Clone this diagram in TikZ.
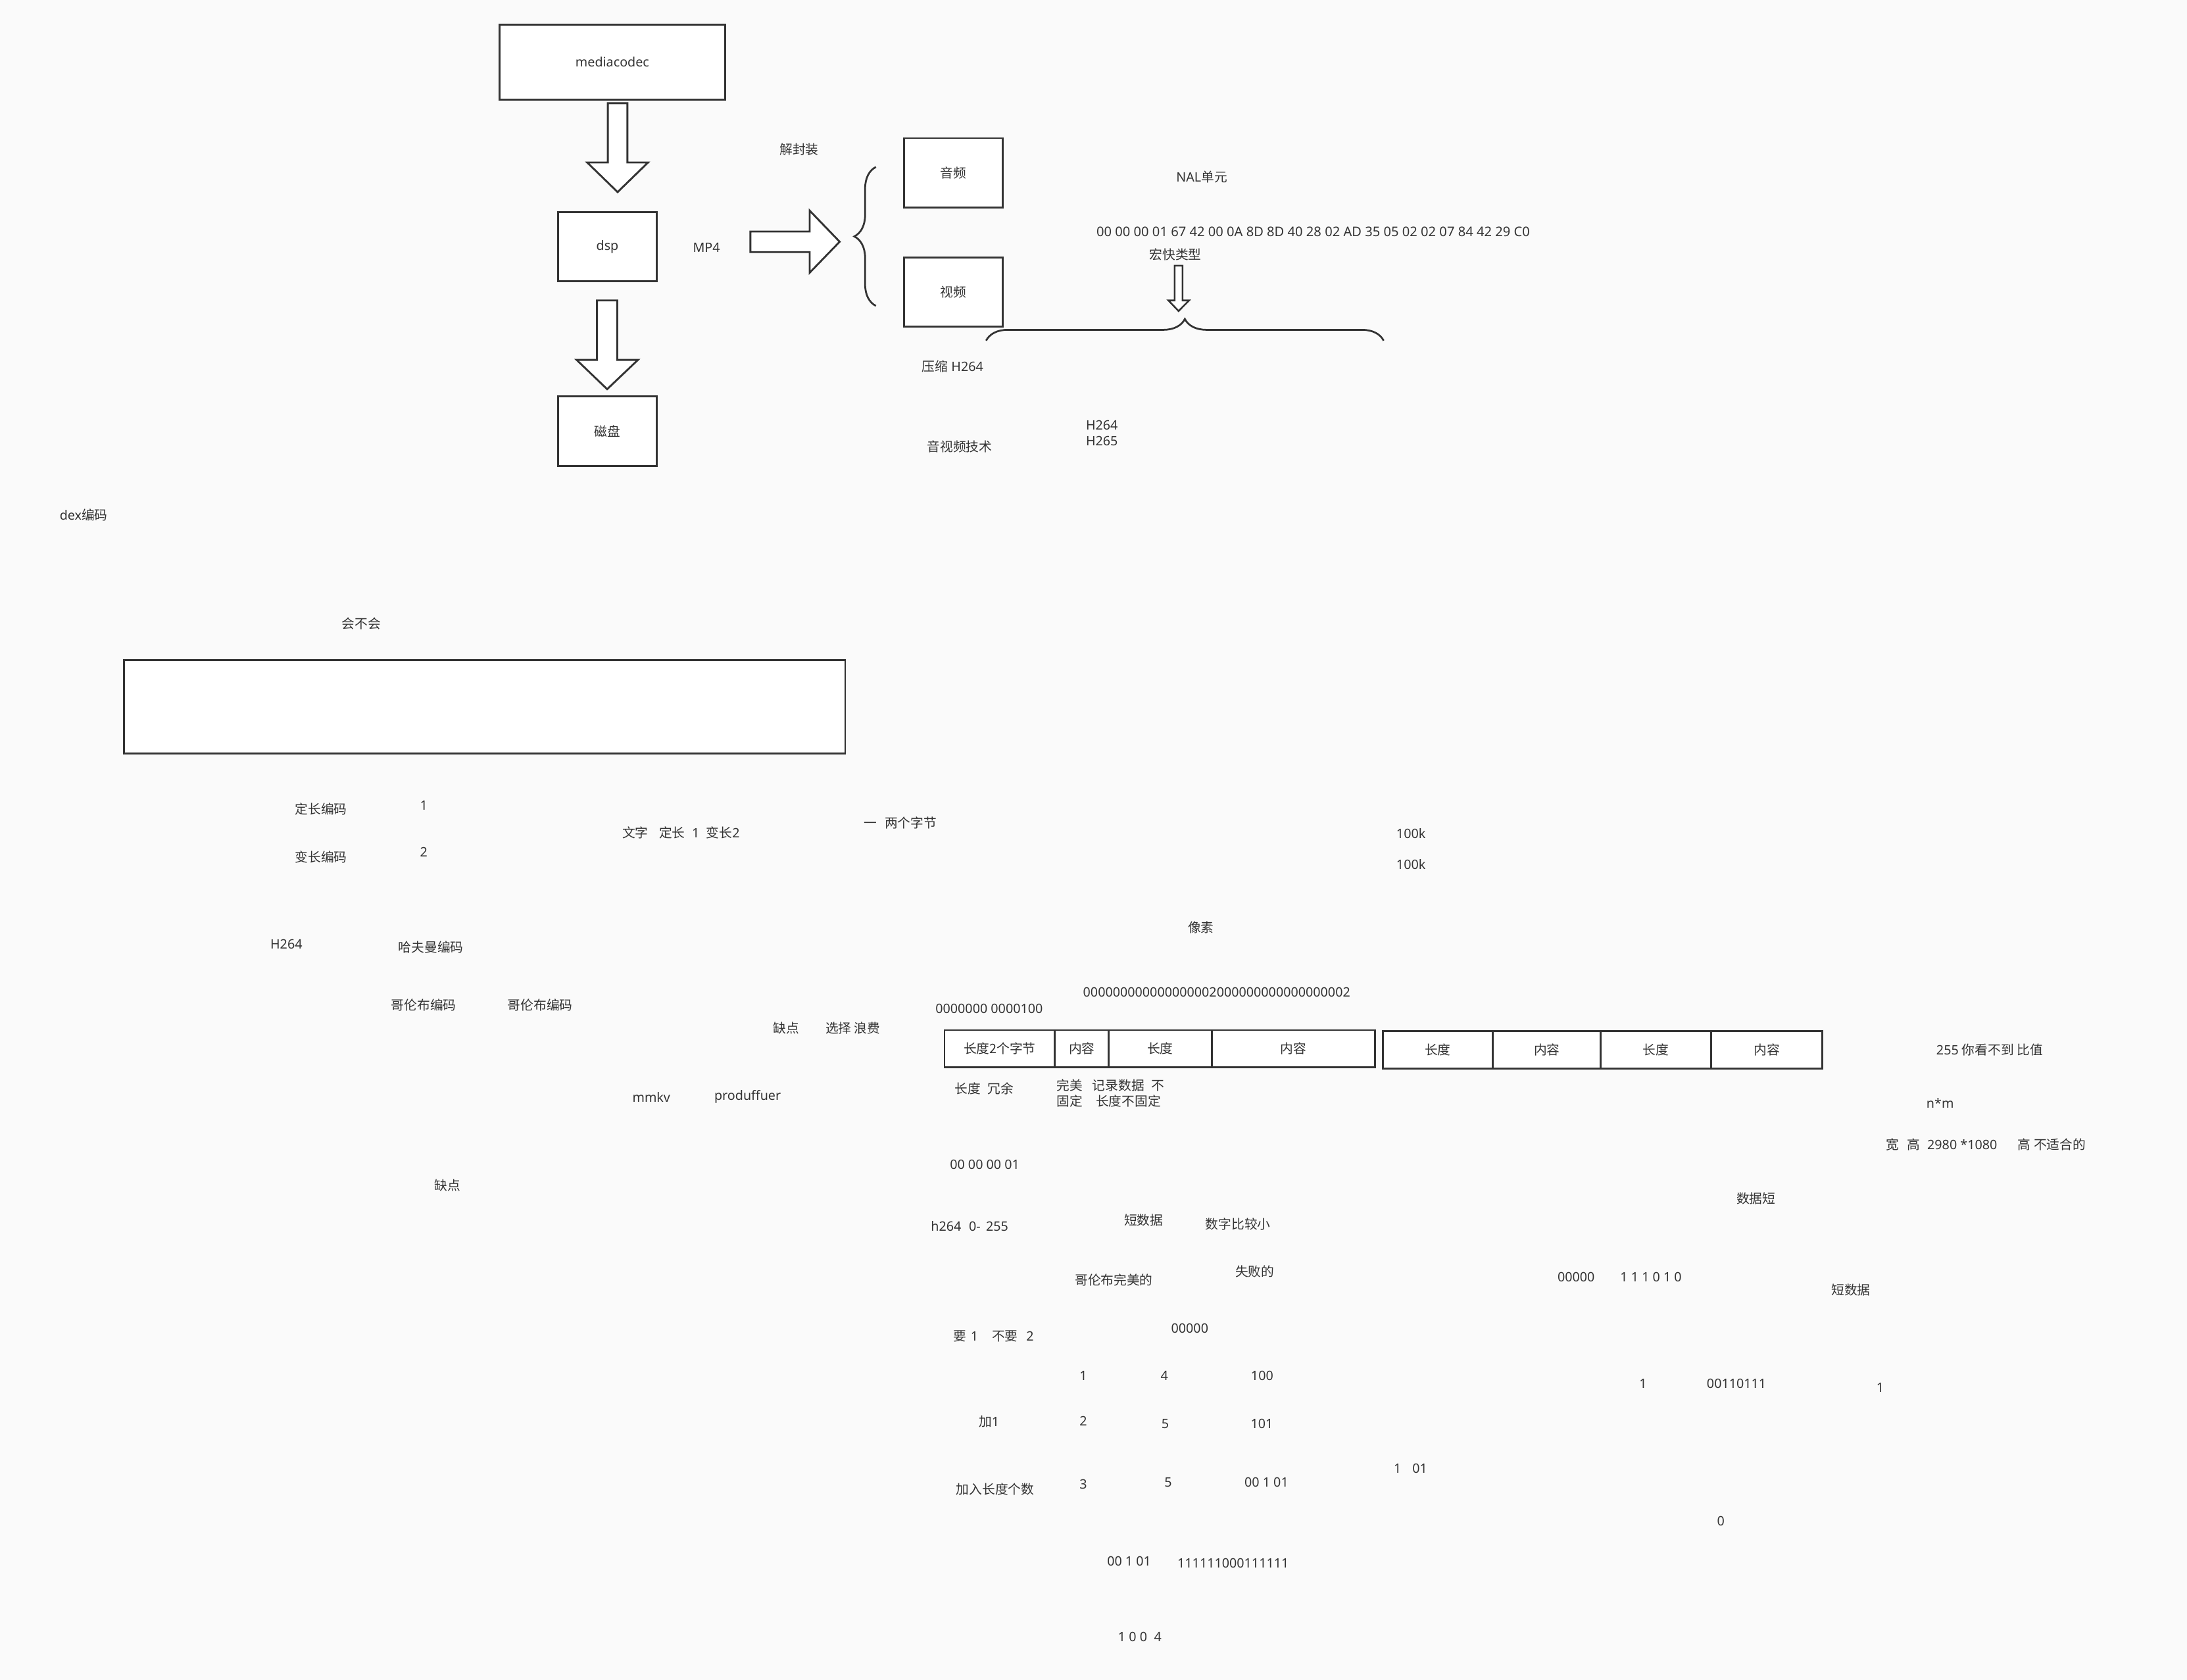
\documentclass[tikz,border=0pt]{standalone}
\usepackage{fontspec}
\setmainfont{Noto Sans}
\newfontfamily\cjkf{Noto Sans CJK SC}
\usetikzlibrary{decorations.pathreplacing}
\definecolor{bg}{RGB}{250,250,250}
\definecolor{ink}{HTML}{333333}
\newcommand\fs{\fontsize{9.3}{11.2}\selectfont}
\newcommand\zh[1]{{\cjkf #1}}
\newcommand\tenz{0000000000}
\begin{document}
\begin{tikzpicture}[x=1pt,y=-1pt,
  box/.style={draw=ink, fill=white, line width=1.35pt, inner sep=0pt, font=\fs\cjkf, text=ink},
  lbl/.style={inner sep=0pt, font=\fs, text=ink},
  cn/.style={inner sep=0pt, font=\fs\cjkf, text=ink},
  blk/.style={draw=ink, fill=white, line width=1.35pt},
  brc/.style={draw=ink, line width=1.3pt, decorate, decoration={brace, amplitude=15.5pt}}]
\useasboundingbox (0,0) rectangle (1568,1204.4);
\fill[bg] (0,0) rectangle (1568,1204.4);

% ---- top flow ----
\node[box, minimum width=162pt, minimum height=54pt, font=\fs] (mc) at (439,44.6) {mediacodec};
\node[box, minimum width=71pt, minimum height=49.5pt, font=\fs] (dsp) at (435.5,176.8) {dsp};
\node[box, minimum width=71pt, minimum height=50pt] (disk) at (435.5,309) {磁盘};
\draw[blk] (435.8,74) -- (449.8,74) -- (449.8,116.5) -- (464.6,116.5) -- (442.8,137.7) -- (421,116.5) -- (435.8,116.5) -- cycle;
\draw[blk] (428,215.4) -- (442.6,215.4) -- (442.6,258) -- (457.4,258) -- (435.3,279) -- (413.4,258) -- (428,258) -- cycle;
\node[lbl] (mp4) at (506.5,177.5) {MP4};
\node[cn] (jfz) at (573,107) {解封装};
\draw[blk] (538,166) -- (580.5,166) -- (580.5,151) -- (602,173.3) -- (580.5,195.5) -- (580.5,180.7) -- (538,180.7) -- cycle;
\draw[brc] (628,219.3) -- (628,119.7);
\node[box, minimum width=71pt, minimum height=49.7pt] (audio) at (683.5,123.9) {音频};
\node[box, minimum width=71pt, minimum height=49.7pt] (video) at (683.5,209.4) {视频};

\node[lbl] (nal) at (861.6,127) {NAL\zh{单元}};
\node[lbl, font=\fontsize{9.5}{11.2}\selectfont] (hex) at (941.5,166.3) {00 00 00 01 67 42 00 0A 8D 8D 40 28 02 AD 35 05 02 02 07 84 42 29 C0};
\node[cn] (hk) at (842.8,182.3) {宏快类型};
\draw[blk, line width=1.2pt] (842.2,190.5) -- (847.8,190.5) -- (847.8,215.4) -- (852.5,215.4) -- (845,223) -- (837.7,215.4) -- (842.2,215.4) -- cycle;
\draw[brc] (707,244.2) -- (992,244.2);
\node[lbl] (ys) at (683,262.6) {\zh{压缩} H264};
\node[lbl, align=left] (h26x) at (790,310.4) {H264\\H265};
\node[cn] (yspjs) at (688,320.4) {音视频技术};

% ---- left middle ----
\node[lbl] (dex) at (60,369) {dex\zh{编码}};
\node[cn] (hbh) at (259,447) {会不会};
\node[box, minimum width=517pt, minimum height=67pt] (big) at (347.5,506.8) {};
\node[cn] (dc) at (230.2,580) {定长编码};
\node[lbl] (n1) at (303.8,577.3) {1};
\node[cn] (bc) at (230.2,614.2) {变长编码};
\node[lbl] (n2) at (303.8,611) {2};
\node[lbl] (wz) at (488.3,597) {\zh{文字}\hspace{7.7pt}\zh{定长}\hspace{5pt}1\hspace{5pt}\zh{变长}2};
\node[cn] (lgzj) at (645.5,590) {一\hspace{5.5pt}两个字节};
\node[lbl] (k1) at (1011.6,597.4) {100k};
\node[lbl] (k2) at (1011.6,619.7) {100k};
\node[cn] (xs) at (861,665) {像素};
\node[lbl] (h264b) at (205.3,676.8) {H264};
\node[cn] (hfm) at (309,679) {哈夫曼编码};
\node[cn] (glb1) at (303.8,720.6) {哥伦布编码};
\node[cn] (glb2) at (387.3,720.6) {哥伦布编码};
\node[cn] (qd1) at (563.7,737) {缺点};
\node[cn] (xzlf) at (611.5,737) {选择 浪费};
\node[lbl] (mmkv) at (467,786.4) {mmkv};
\node[lbl] (prod) at (536,786.4) {produffuer};
\node[cn] (qd2) at (321,850) {缺点};

% ---- byte row ----
\node[lbl] (z1) at (709.2,723) {0000000 0000100};
\node[lbl] (z2) at (872.3,711.3) {\tenz00000002\tenz00000002};
\node[box, minimum width=79.1pt, minimum height=26.5pt] (b1) at (716.75,751.7) {长度2个字节};
\node[box, minimum width=38.7pt, minimum height=26.5pt] (b2) at (775.65,751.7) {内容};
\node[box, minimum width=73.7pt, minimum height=26.5pt] (b3) at (831.85,751.7) {长度};
\node[box, minimum width=117.3pt, minimum height=26.5pt] (b4) at (927.35,751.7) {内容};
\node[box, minimum width=79.1pt, minimum height=27pt] (c1) at (1030.85,752.5) {长度};
\node[box, minimum width=77.3pt, minimum height=27pt] (c2) at (1109.05,752.5) {内容};
\node[box, minimum width=79pt, minimum height=27pt] (c3) at (1187.2,752.5) {长度};
\node[box, minimum width=79.9pt, minimum height=27pt] (c4) at (1266.65,752.5) {内容};
\node[cn] (cdry) at (705.5,780.4) {长度\hspace{5pt}冗余};
\node[cn, align=center] (wmgd) at (767,783.9) {完美\\固定};
\node[cn, align=center] (jlsj) at (809,783.9) {记录数据\hspace{5pt}不\\长度不固定};

% ---- lower middle ----
\node[lbl] (sc) at (706,835) {00 00 00 01};
\node[lbl] (h264c) at (695.2,878.9) {h264\hspace{5.5pt}0-\hspace{4pt}255};
\node[cn] (dsj1) at (819.9,875) {短数据};
\node[cn] (szbjx) at (887.6,877.6) {数字比较小};
\node[cn] (glbwm) at (798.6,917.5) {哥伦布完美的};
\node[cn] (sbd) at (899.6,911.6) {失败的};
\node[lbl] (yao) at (712.4,958.2) {\zh{要}\hspace{3pt}1\hspace{10pt}\zh{不要}\hspace{6pt}2};
\node[lbl] (z5) at (853,952.5) {00000};
\node[lbl] (r1a) at (776.7,986.3) {1};
\node[lbl] (r1b) at (834.8,986.3) {4};
\node[lbl] (r1c) at (904.9,986.3) {100};
\node[lbl] (jia1) at (709.1,1019) {\zh{加}1};
\node[lbl] (r2a) at (776.7,1018.6) {2};
\node[lbl] (r2b) at (835.4,1020.8) {5};
\node[lbl] (r2c) at (904.7,1020.8) {101};
\node[cn] (jrcd) at (713.5,1067.6) {加入长度个数};
\node[lbl] (r3a) at (776.7,1064.2) {3};
\node[lbl] (r3b) at (837.5,1062.5) {5};
\node[lbl] (r3c) at (908,1062.5) {00 1 01};
\node[lbl] (r4a) at (809.5,1119.2) {00 1 01};
\node[lbl] (r4b) at (884.1,1120.7) {111111000111111};
\node[lbl] (r5) at (817.2,1173.7) {1 0 0\hspace{5pt}4};

% ---- right side ----
\node[lbl] (n255) at (1426.6,752.7) {255 \zh{你看不到} \zh{比值}};
\node[lbl] (nm) at (1391,791) {n*m};
\node[lbl] (kg) at (1423.9,820.6) {\zh{宽}\hspace{5.6pt}\zh{高}\hspace{5.2pt}2980 *1080\hspace{14.6pt}\zh{高} \zh{不适合的}};
\node[cn] (sjd) at (1259,859) {数据短};
\node[lbl] (bits) at (1161.2,915.4) {00000\hspace{18.4pt}1 1 1 0 1 0};
\node[cn] (dsj2) at (1327,924.8) {短数据};
\node[lbl] (o1) at (1178,992) {1};
\node[lbl] (o2) at (1245,992) {00110111};
\node[lbl] (o3) at (1348,994.6) {1};
\node[lbl] (o4) at (1011.3,1052.6) {1\hspace{8pt}01};
\node[lbl] (o5) at (1233.7,1090.6) {0};
\end{tikzpicture}
\end{document}
